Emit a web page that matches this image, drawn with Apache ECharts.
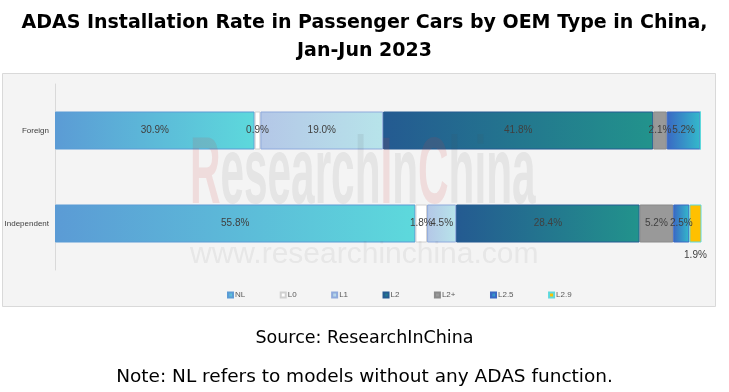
<!DOCTYPE html>
<html><head><meta charset="utf-8">
<script src="https://cdn.jsdelivr.net/npm/echarts@6/dist/echarts.min.js"></script>
<style>html,body{margin:0;padding:0;background:#fff}#c{width:729px;height:392px}</style>
</head><body><div id="c"></div>
<script>
const categories = ['Foreign', 'Independent'];
const seriesNames = ['NL', 'L0', 'L1', 'L2', 'L2+', 'L2.5', 'L2.9'];
const NL = [30.9, 55.8];
const L0 = [0.9, 1.8];
const L1 = [19.0, 4.5];
const L2 = [41.8, 28.4];
const L2p = [2.1, 5.2];
const L25 = [5.2, 2.5];
const L29 = [0, 1.9];
const values = [NL, L0, L1, L2, L2p, L25, L29];

function grad(a, b) {
  return new echarts.graphic.LinearGradient(0, 0, 1, 0, [{offset: 0, color: a}, {offset: 1, color: b}]);
}
const fills = [
  grad('#5b9bd5', '#5dd9dc'),
  '#ffffff',
  grad('#b4c7e7', '#b7e4ea'),
  grad('#245a91', '#22938c'),
  '#999999',
  grad('#3a68c4', '#33bacb'),
  '#ffc000'
];
const borders = ['#5b9bd5', '#d0d0d0', '#8faadc', '#245a91', '#8a8a8a', '#3a68c4', '#5dd9dc'];
const legendColors = ['#4fa3d5', '#ffffff', '#b4d3ec', '#1f7a8c', '#999999', '#2f63b5', '#ffc000'];

const chart = echarts.init(document.getElementById('c'));
const series = seriesNames.map((n, i) => ({
  name: n,
  type: 'bar',
  stack: 'total',
  barWidth: 38,
  data: values[i],
  itemStyle: { color: fills[i], borderColor: borders[i], borderWidth: 1 },
  label: {
    show: true,
    position: i === 6 ? 'bottom' : 'inside',
    distance: 8,
    color: '#404040',
    fontSize: 10,
    fontFamily: '"Liberation Sans Narrow", "Liberation Sans"',
    formatter: p => p.value ? p.value.toFixed(1) + '%' : ''
  }
}));

chart.setOption({
  animation: false,
  backgroundColor: '#ffffff',
  title: [
    { text: 'ADAS Installation Rate in Passenger Cars by OEM Type in China,\nJan-Jun 2023', left: 'center', top: 4,
      textStyle: { fontFamily: 'DejaVu Sans', fontWeight: 'bold', fontSize: 19, lineHeight: 28, color: '#000' } },
    { text: 'Source: ResearchInChina', left: 'center', top: 324,
      textStyle: { fontFamily: 'DejaVu Sans', fontWeight: 'normal', fontSize: 17.5, color: '#000' } },
    { text: 'Note: NL refers to models without any ADAS function.', left: 'center', top: 363,
      textStyle: { fontFamily: 'DejaVu Sans', fontWeight: 'normal', fontSize: 18.5, color: '#000' } }
  ],
  graphic: [
    { type: 'rect', z: -10, shape: { x: 2.5, y: 73.5, width: 713, height: 233 },
      style: { fill: '#f4f4f4', stroke: '#d9d9d9', lineWidth: 1 } },
    { type: 'text', z: 100, x: 190, y: 130, scaleX: 0.45,
      style: { text: '{r|R}{g|esearch}{r|I}{g|n}{r|C}{g|hina}', font: 'bold 94px "Liberation Sans"',
        rich: { r: { fill: 'rgba(210,60,60,0.13)', font: 'bold 94px "Liberation Sans"' },
                g: { fill: 'rgba(80,80,80,0.09)', font: 'bold 94px "Liberation Sans"' } } } },
    { type: 'text', z: 100, x: 190, y: 240,
      style: { text: 'www.researchinchina.com', fill: 'rgba(100,100,100,0.09)', font: '30px "Liberation Sans"' } }
  ],
  legend: {
    data: seriesNames, top: 286, left: 222, itemGap: 34.5, itemWidth: 5, itemHeight: 5, icon: 'rect',
    textStyle: { fontSize: 8, color: '#595959', fontFamily: 'Liberation Sans', padding: [0, 0, 0, -3] }
  },
  color: legendColors,
  grid: { left: 55, right: 28, top: 84, bottom: 122, containLabel: false },
  xAxis: { type: 'value', min: 0, max: 100, show: false },
  yAxis: {
    type: 'category', data: categories, inverse: true,
    axisLine: { show: true, lineStyle: { color: '#d9d9d9' } },
    axisTick: { show: false },
    axisLabel: { fontSize: 8, color: '#404040', fontFamily: 'Liberation Sans', margin: 6 }
  },
  series: series
});
</script></body></html>
